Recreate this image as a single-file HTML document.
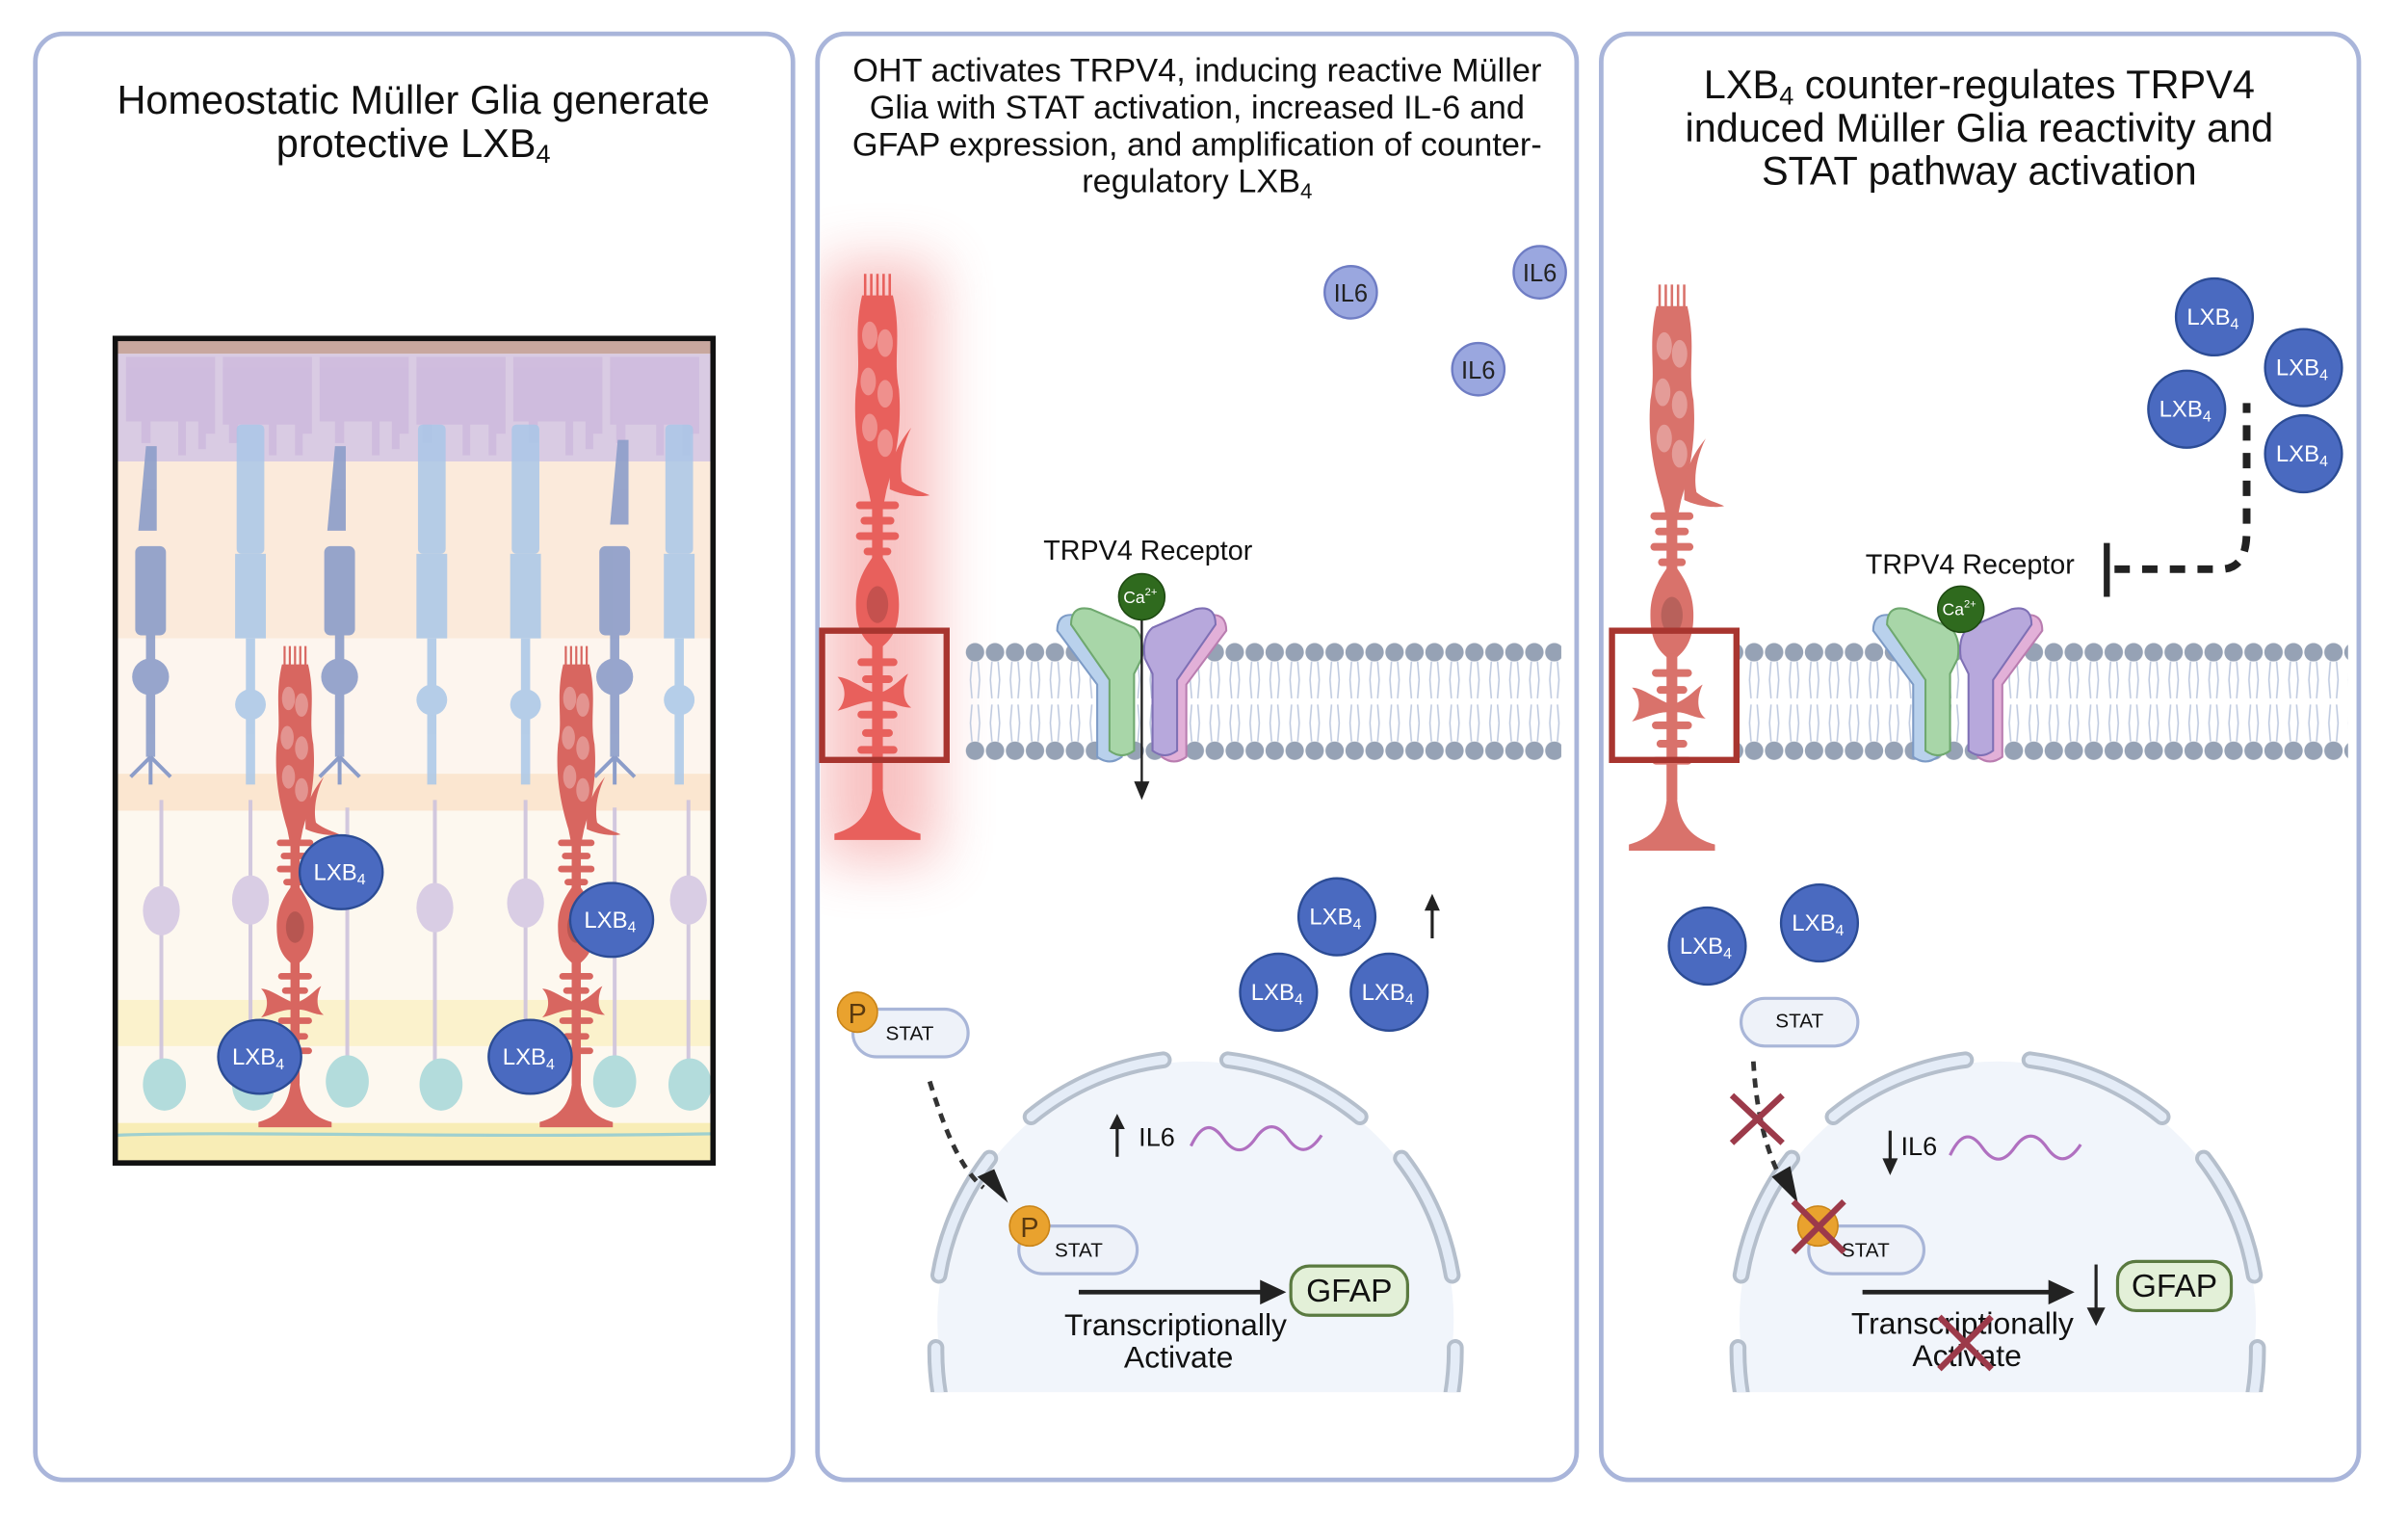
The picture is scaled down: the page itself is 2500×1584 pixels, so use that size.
<!DOCTYPE html>
<html><head><meta charset="utf-8"><style>
html,body{margin:0;padding:0;background:#fff;width:2500px;height:1584px;overflow:hidden}
svg{display:block}
text{font-family:"Liberation Sans",Arial,sans-serif}
</style></head><body>
<svg width="2500" height="1584" viewBox="0 0 1567 992" preserveAspectRatio="none" xmlns="http://www.w3.org/2000/svg">
<defs>
<pattern id="mem" patternUnits="userSpaceOnUse" x="628" y="418" width="13" height="76">
<g stroke="#bfcadf" stroke-width="1" fill="none">
<path d="M4.5,12 L3.5,24 L4.5,36 M8.5,12 L9.5,24 L8.5,36 M4.5,40 L3.5,52 L4.5,64 M8.5,40 L9.5,52 L8.5,64"/></g>
<circle cx="6.5" cy="6" r="6" fill="#96a2b5"/><circle cx="6.5" cy="70" r="6" fill="#96a2b5"/>
</pattern>
<filter id="blur" x="-100%" y="-50%" width="300%" height="200%"><feGaussianBlur stdDeviation="18"/></filter>
<clipPath id="p2clip"><rect x="534" y="24" width="490" height="936" rx="16"/></clipPath>
<clipPath id="nuc2"><rect x="560" y="600" width="440" height="305"/></clipPath>
<clipPath id="box1"><rect x="76" y="221" width="387" height="534"/></clipPath>
<g id="muller">
<g stroke="currentColor" stroke-width="1.6" fill="none"><path d="M-8,0 V16 M-4,0 V16 M0,0 V16 M4,0 V16 M8,0 V16"/></g>
<path d="M-10,14 H10 C16,40 10,55 14,75 C16,100 12,120 6,140 L4,150 H-4 L-6,140 C-12,120 -16,100 -14,75 C-10,55 -16,40 -10,14Z"/>
<g opacity="0.3" fill="#fff"><ellipse cx="-5" cy="40" rx="5" ry="9"/><ellipse cx="5" cy="45" rx="5" ry="9"/><ellipse cx="-6" cy="70" rx="5" ry="9"/><ellipse cx="5" cy="78" rx="5" ry="9"/><ellipse cx="-5" cy="100" rx="5" ry="9"/><ellipse cx="5" cy="110" rx="5" ry="9"/></g>
<path d="M8,130 C10,115 18,105 22,100 C16,112 14,125 16,135 C22,140 30,142 34,144 C24,146 12,142 8,140Z"/>
<rect x="-14" y="148" width="28" height="5" rx="2.5"/><rect x="-11" y="158" width="22" height="5" rx="2.5"/><rect x="-14" y="168" width="28" height="5" rx="2.5"/><rect x="-9" y="178" width="18" height="5" rx="2.5"/>
<rect x="-3.5" y="145" width="7" height="65"/>
<path d="M0,180 C12,195 14,205 14,215 C14,235 6,240 0,245 C-6,240 -14,235 -14,215 C-14,205 -12,195 0,180Z"/>
<ellipse cx="0" cy="215" rx="7" ry="12" fill="#000" opacity="0.15"/>
<rect x="-3.5" y="240" width="7" height="95"/>
<rect x="-13" y="250" width="26" height="5" rx="2.5"/><rect x="-10" y="261" width="20" height="5" rx="2.5"/><rect x="-13" y="284" width="26" height="5" rx="2.5"/><rect x="-10" y="296" width="20" height="5" rx="2.5"/><rect x="-13" y="307" width="26" height="5" rx="2.5"/>
<path d="M-3,272 C-12,268 -20,262 -26,262 C-20,268 -20,278 -26,284 C-18,282 -10,278 -3,278Z M3,272 C12,268 16,262 20,260 C16,268 16,278 22,282 C14,282 10,278 3,278Z"/>
<path d="M-3,330 C-4,352 -14,360 -28,364 L-28,368 H28 V364 C14,360 4,352 3,330Z"/>
</g>
<g id="lxb"><circle r="25" fill="#4a6ac0" stroke="#2c4c95" stroke-width="1.5"/></g>
<g id="il6"><circle r="17" fill="#9aa7df" stroke="#6f7dc4" stroke-width="1.5"/></g>
</defs>

<g fill="#fff" stroke="#a9b5da" stroke-width="3">
<rect x="23" y="22" width="493" height="940" rx="18"/>
<rect x="532" y="22" width="494" height="940" rx="18"/>
<rect x="1042" y="22" width="493" height="940" rx="18"/>
</g>

<g font-size="26" text-anchor="middle" fill="#111">
<text x="269" y="74">Homeostatic Müller Glia generate</text>
<text x="269" y="102">protective LXB<tspan font-size="17" dy="4">4</tspan></text>
<text x="1288" y="64">LXB<tspan font-size="17" dy="4">4</tspan><tspan dy="-4"> counter-regulates TRPV4</tspan></text>
<text x="1288" y="92">induced Müller Glia reactivity and</text>
<text x="1288" y="120">STAT pathway activation</text>
</g>
<g font-size="21.5" text-anchor="middle" fill="#111">
<text x="779" y="53">OHT activates TRPV4, inducing reactive Müller</text>
<text x="779" y="77">Glia with STAT activation, increased IL-6 and</text>
<text x="779" y="101">GFAP expression, and amplification of counter-</text>
<text x="779" y="125">regulatory LXB<tspan font-size="14" dy="4">4</tspan></text>
</g>

<g clip-path="url(#box1)">
<rect x="75" y="220" width="390" height="536" fill="#fdf8ef"/>
<rect x="75" y="220" width="390" height="10" fill="#c8a79e"/>
<rect x="75" y="230" width="390" height="70" fill="#d9cbe3"/>
<rect x="75" y="300" width="390" height="115" fill="#fbeadb"/>
<rect x="75" y="415" width="390" height="88" fill="#fdf5ee"/>
<rect x="75" y="503" width="390" height="24" fill="#fbe6d0"/>
<rect x="75" y="650" width="390" height="30" fill="#fbf2cc"/>
<rect x="75" y="730" width="390" height="26" fill="#f8edb6"/>
<g fill="#cdb9dd" opacity="0.8">
<path d="M82,232 h58 v50 h-6 v10 h-5 v-18 h-8 v22 h-5 v-22 h-18 v14 h-6 v-14 h-10Z"/>
<path d="M145,232 h58 v50 h-6 v14 h-5 v-20 h-12 v20 h-5 v-20 h-20 v12 h-6 v-12 h-4Z"/>
<path d="M208,232 h58 v50 h-6 v10 h-5 v-18 h-8 v22 h-5 v-22 h-18 v14 h-6 v-14 h-10Z"/>
<path d="M271,232 h58 v50 h-6 v14 h-5 v-20 h-12 v20 h-5 v-20 h-20 v12 h-6 v-12 h-4Z"/>
<path d="M334,232 h58 v50 h-6 v10 h-5 v-18 h-8 v22 h-5 v-22 h-18 v14 h-6 v-14 h-10Z"/>
<path d="M397,232 h58 v50 h-6 v14 h-5 v-20 h-12 v20 h-5 v-20 h-20 v12 h-6 v-12 h-4Z"/>
</g>
<g stroke="#cdc2dc" stroke-width="2.5" fill="none" opacity="0.9">
<path d="M105,520 V690 M163,520 V690 M283,520 V690 M342,520 V690 M448,520 V690 M226,525 V690 M400,525 V690"/>
</g>
<g fill="#d9cde4"><ellipse cx="105" cy="592" rx="12" ry="16"/><ellipse cx="163" cy="585" rx="12" ry="16"/><ellipse cx="283" cy="590" rx="12" ry="16"/><ellipse cx="342" cy="587" rx="12" ry="16"/><ellipse cx="448" cy="585" rx="12" ry="16"/></g>
<g fill="#b3dcdc"><ellipse cx="107" cy="705" rx="14" ry="17"/><ellipse cx="165" cy="705" rx="14" ry="17"/><ellipse cx="226" cy="703" rx="14" ry="17"/><ellipse cx="287" cy="705" rx="14" ry="17"/><ellipse cx="400" cy="703" rx="14" ry="17"/><ellipse cx="449" cy="705" rx="14" ry="17"/></g>
<path d="M75,738 C150,735 300,740 465,737" stroke="#9fd0cf" stroke-width="2" fill="none"/>
<g fill="#8c9dc9" opacity="0.9">
<path d="M95,290 h7 v55 h-12Z"/><rect x="88" y="355" width="20" height="58" rx="4"/><rect x="95" y="412" width="6" height="80"/><circle cx="98" cy="440" r="12"/>
<path d="M218,290 h7 v55 h-12Z"/><rect x="211" y="355" width="20" height="58" rx="4"/><rect x="218" y="412" width="6" height="80"/><circle cx="221" cy="440" r="12"/>
<path d="M402,286 h7 v55 h-12Z"/><rect x="390" y="355" width="20" height="58" rx="4"/><rect x="397" y="412" width="6" height="80"/><circle cx="400" cy="440" r="12"/>
</g>
<g stroke="#8c9dc9" stroke-width="2.5" fill="none"><path d="M98,492 L85,505 M98,492 L111,505 M98,492 V510 M221,492 L208,505 M221,492 L234,505 M221,492 V510 M400,492 L387,505 M400,492 L413,505 M400,492 V510"/></g>
<g fill="#a9c7e8" opacity="0.85">
<rect x="154" y="276" width="18" height="84" rx="3"/><rect x="153" y="360" width="20" height="55"/><rect x="160" y="415" width="6" height="95"/><circle cx="163" cy="458" r="10"/>
<rect x="272" y="276" width="18" height="84" rx="3"/><rect x="271" y="360" width="20" height="55"/><rect x="278" y="415" width="6" height="95"/><circle cx="281" cy="455" r="10"/>
<rect x="333" y="276" width="18" height="84" rx="3"/><rect x="332" y="360" width="20" height="55"/><rect x="339" y="415" width="6" height="95"/><circle cx="342" cy="458" r="10"/>
<rect x="433" y="276" width="18" height="84" rx="3"/><rect x="432" y="360" width="20" height="55"/><rect x="439" y="415" width="6" height="95"/><circle cx="442" cy="455" r="10"/>
</g>
<use href="#muller" transform="translate(192,420) scale(0.85)" fill="#d86660" color="#d86660"/>
<use href="#muller" transform="translate(375,420) scale(0.85)" fill="#d86660" color="#d86660"/>
</g>
<rect x="75" y="220" width="389" height="536" fill="none" stroke="#111" stroke-width="3.5"/>
<g fill="#4a6ac0" stroke="#2c4c95" stroke-width="1.5">
<ellipse cx="222" cy="567" rx="27" ry="24"/><ellipse cx="398" cy="598" rx="27" ry="24"/><ellipse cx="169" cy="687" rx="27" ry="24"/><ellipse cx="345" cy="687" rx="27" ry="24"/>
</g>
<g font-size="15" fill="#fff" text-anchor="middle">
<text x="221" y="572">LXB<tspan font-size="10" dy="3">4</tspan></text>
<text x="397" y="603">LXB<tspan font-size="10" dy="3">4</tspan></text>
<text x="168" y="692">LXB<tspan font-size="10" dy="3">4</tspan></text>
<text x="344" y="692">LXB<tspan font-size="10" dy="3">4</tspan></text>
</g>

<g clip-path="url(#p2clip)"><rect x="535" y="170" width="75" height="390" fill="#f07878" opacity="0.45" filter="url(#blur)"/></g>
<use href="#muller" transform="translate(571,178)" fill="#e8605c" color="#e8605c"/>
<rect x="535" y="410" width="81" height="84" fill="none" stroke="#a8352f" stroke-width="4"/>
<rect x="628" y="418" width="388" height="76" fill="url(#mem)"/>
<g stroke-width="1.3">
<path d="M688,410 Q688,398 700,400 L732,410 Q740,416 738,430 L730,440 V492 Q722,498 714,492 V445Z" fill="#b9d1ec" stroke="#7d9bc6"/>
<path d="M697,406 Q697,393 710,396 L738,408 Q745,414 743,428 L738,438 V488 Q730,494 722,488 V442Z" fill="#a8d6a8" stroke="#6fa86f"/>
<path d="M798,410 Q798,398 786,400 L754,410 Q746,416 748,430 L756,440 V492 Q764,498 772,492 V445Z" fill="#e2b0d8" stroke="#b97db0"/>
<path d="M791,406 Q791,393 778,396 L750,408 Q743,414 745,428 L750,438 V488 Q758,494 766,488 V442Z" fill="#b7a8dc" stroke="#7f70b5"/>
</g>
<line x1="743" y1="392" x2="743" y2="512" stroke="#222" stroke-width="1.5"/>
<path d="M738,508 L748,508 L743,520Z" fill="#222"/>
<circle cx="743" cy="388" r="15" fill="#2f6a1e" stroke="#1e4a12"/>
<text x="742" y="392" font-size="11" fill="#fff" text-anchor="middle">Ca<tspan font-size="7" dy="-5">2+</tspan></text>
<text x="747" y="364" font-size="18" text-anchor="middle" fill="#111">TRPV4 Receptor</text>
<use href="#il6" x="879" y="190"/><use href="#il6" x="1002" y="177"/><use href="#il6" x="962" y="240"/>
<g font-size="16" text-anchor="middle" fill="#222"><text x="879" y="196">IL6</text><text x="1002" y="183">IL6</text><text x="962" y="246">IL6</text></g>
<use href="#lxb" x="870" y="596"/><use href="#lxb" x="832" y="645"/><use href="#lxb" x="904" y="645"/>
<g font-size="15" fill="#fff" text-anchor="middle">
<text x="869" y="601">LXB<tspan font-size="10" dy="3">4</tspan></text>
<text x="831" y="650">LXB<tspan font-size="10" dy="3">4</tspan></text>
<text x="903" y="650">LXB<tspan font-size="10" dy="3">4</tspan></text>
</g>
<line x1="932" y1="610" x2="932" y2="590" stroke="#222" stroke-width="2"/><path d="M927,592 L937,592 L932,581Z" fill="#222"/>
<g clip-path="url(#nuc2)">
<circle cx="778" cy="858" r="168" fill="#eef3fa" opacity="0.8"/>
<g fill="none" stroke-linecap="round">
<g stroke="#b5bfcc" stroke-width="11">
<path d="M671,726 A170,170 0 0 1 757,689 M799,689 A170,170 0 0 1 885,726 M644,753 A170,170 0 0 0 611,829 M912,753 A170,170 0 0 1 945,829 M609,876 A170,170 0 0 0 613,915 M947,876 A170,170 0 0 1 943,915"/></g>
<g stroke="#e4ecf7" stroke-width="6">
<path d="M671,726 A170,170 0 0 1 757,689 M799,689 A170,170 0 0 1 885,726 M644,753 A170,170 0 0 0 611,829 M912,753 A170,170 0 0 1 945,829 M609,876 A170,170 0 0 0 613,915 M947,876 A170,170 0 0 1 943,915"/></g>
</g></g>
<rect x="555" y="656" width="75" height="31" rx="15.5" fill="#eef2f9" stroke="#a9b6d8" stroke-width="2"/>
<circle cx="558" cy="658" r="13" fill="#e9a22e" stroke="#c98418"/>
<text x="558" y="665" font-size="18" text-anchor="middle" fill="#5a3a10">P</text>
<text x="592" y="676" font-size="13" text-anchor="middle" fill="#111">STAT</text>
<path d="M605,703 C615,735 625,760 640,772" fill="none" stroke="#333" stroke-width="3" stroke-dasharray="6,5"/>
<path d="M636,765 L656,782 L647,760Z" fill="#222"/>
<rect x="663" y="797" width="77" height="31" rx="15.5" fill="#eef2f9" stroke="#a9b6d8" stroke-width="2"/>
<circle cx="670" cy="797" r="13" fill="#e9a22e" stroke="#c98418"/>
<text x="670" y="804" font-size="18" text-anchor="middle" fill="#5a3a10">P</text>
<text x="702" y="817" font-size="13" text-anchor="middle" fill="#111">STAT</text>
<line x1="702" y1="840" x2="825" y2="840" stroke="#222" stroke-width="3"/><path d="M820,832 L837,840 L820,848Z" fill="#222"/>
<rect x="840" y="823" width="76" height="32" rx="12" fill="#e3f0d8" stroke="#5a7a40" stroke-width="2"/>
<text x="878" y="846" font-size="21" text-anchor="middle" fill="#111">GFAP</text>
<text x="765" y="868" font-size="20" text-anchor="middle" fill="#111">Transcriptionally</text>
<text x="767" y="889" font-size="20" text-anchor="middle" fill="#111">Activate</text>
<line x1="727" y1="752" x2="727" y2="732" stroke="#222" stroke-width="2"/><path d="M722,734 L732,734 L727,724Z" fill="#222"/>
<text x="741" y="745" font-size="17" fill="#111">IL6</text>
<path d="M775,745 C782,730 789,730 796,740 C803,750 810,750 817,740 C824,730 831,730 838,740 C845,750 852,750 860,738" fill="none" stroke="#b070c0" stroke-width="2"/>

<use href="#muller" transform="translate(1088,185)" fill="#d9726b" color="#d9726b"/>
<rect x="1049" y="410" width="81" height="84" fill="none" stroke="#a8352f" stroke-width="4"/>
<rect x="1132" y="418" width="396" height="76" fill="url(#mem)"/>
<g stroke-width="1.3" transform="translate(531,0)">
<path d="M688,410 Q688,398 700,400 L732,410 Q740,416 738,430 L730,440 V492 Q722,498 714,492 V445Z" fill="#b9d1ec" stroke="#7d9bc6"/>
<path d="M697,406 Q697,393 710,396 L738,408 Q745,414 743,428 L738,438 V488 Q730,494 722,488 V442Z" fill="#a8d6a8" stroke="#6fa86f"/>
<path d="M798,410 Q798,398 786,400 L754,410 Q746,416 748,430 L756,440 V492 Q764,498 772,492 V445Z" fill="#e2b0d8" stroke="#b97db0"/>
<path d="M791,406 Q791,393 778,396 L750,408 Q743,414 745,428 L750,438 V488 Q758,494 766,488 V442Z" fill="#b7a8dc" stroke="#7f70b5"/>
</g>
<circle cx="1276" cy="396" r="15" fill="#2f6a1e" stroke="#1e4a12"/>
<text x="1275" y="400" font-size="11" fill="#fff" text-anchor="middle">Ca<tspan font-size="7" dy="-5">2+</tspan></text>
<text x="1282" y="373" font-size="18" text-anchor="middle" fill="#111">TRPV4 Receptor</text>
<line x1="1371" y1="353" x2="1371" y2="388" stroke="#222" stroke-width="4"/>
<path d="M1376,370 H1445 C1458,370 1462,360 1462,345 V262" fill="none" stroke="#222" stroke-width="5" stroke-dasharray="10,8"/>
<use href="#lxb" x="1441" y="206"/><use href="#lxb" x="1499" y="239"/><use href="#lxb" x="1423" y="266"/><use href="#lxb" x="1499" y="295"/>
<use href="#lxb" x="1111" y="615"/><use href="#lxb" x="1184" y="600"/>
<g font-size="15" fill="#fff" text-anchor="middle">
<text x="1440" y="211">LXB<tspan font-size="10" dy="3">4</tspan></text>
<text x="1498" y="244">LXB<tspan font-size="10" dy="3">4</tspan></text>
<text x="1422" y="271">LXB<tspan font-size="10" dy="3">4</tspan></text>
<text x="1498" y="300">LXB<tspan font-size="10" dy="3">4</tspan></text>
<text x="1110" y="620">LXB<tspan font-size="10" dy="3">4</tspan></text>
<text x="1183" y="605">LXB<tspan font-size="10" dy="3">4</tspan></text>
</g>
<g transform="translate(522,0)"><g clip-path="url(#nuc2)">
<circle cx="778" cy="858" r="168" fill="#eef3fa" opacity="0.8"/>
<g fill="none" stroke-linecap="round">
<g stroke="#b5bfcc" stroke-width="11">
<path d="M671,726 A170,170 0 0 1 757,689 M799,689 A170,170 0 0 1 885,726 M644,753 A170,170 0 0 0 611,829 M912,753 A170,170 0 0 1 945,829 M609,876 A170,170 0 0 0 613,915 M947,876 A170,170 0 0 1 943,915"/></g>
<g stroke="#e4ecf7" stroke-width="6">
<path d="M671,726 A170,170 0 0 1 757,689 M799,689 A170,170 0 0 1 885,726 M644,753 A170,170 0 0 0 611,829 M912,753 A170,170 0 0 1 945,829 M609,876 A170,170 0 0 0 613,915 M947,876 A170,170 0 0 1 943,915"/></g>
</g></g></g>
<rect x="1133" y="649" width="76" height="31" rx="15.5" fill="#eef2f9" stroke="#a9b6d8" stroke-width="2"/>
<text x="1171" y="668" font-size="13" text-anchor="middle" fill="#111">STAT</text>
<path d="M1141,690 C1143,725 1150,750 1160,768" fill="none" stroke="#333" stroke-width="3" stroke-dasharray="6,5"/>
<path d="M1153,765 L1170,782 L1165,758Z" fill="#222"/>
<path d="M1127,712 L1160,743 M1160,712 L1127,743" stroke="#9c3a4a" stroke-width="4"/>
<rect x="1177" y="797" width="75" height="31" rx="15.5" fill="#eef2f9" stroke="#a9b6d8" stroke-width="2"/>
<circle cx="1183" cy="797" r="13" fill="#e9a22e" stroke="#c98418"/>
<text x="1214" y="817" font-size="13" text-anchor="middle" fill="#111">STAT</text>
<path d="M1167,781 L1200,814 M1200,781 L1167,814" stroke="#9c3a4a" stroke-width="4"/>
<line x1="1212" y1="840" x2="1338" y2="840" stroke="#222" stroke-width="3"/><path d="M1333,832 L1350,840 L1333,848Z" fill="#222"/>
<line x1="1364" y1="822" x2="1364" y2="852" stroke="#222" stroke-width="2"/><path d="M1358,850 L1370,850 L1364,862Z" fill="#222"/>
<rect x="1378" y="820" width="74" height="32" rx="12" fill="#e3f0d8" stroke="#5a7a40" stroke-width="2"/>
<text x="1415" y="843" font-size="21" text-anchor="middle" fill="#111">GFAP</text>
<text x="1277" y="867" font-size="20" text-anchor="middle" fill="#111">Transcriptionally</text>
<text x="1280" y="888" font-size="20" text-anchor="middle" fill="#111">Activate</text>
<path d="M1262,856 L1296,890 M1296,856 L1262,890" stroke="#9c3a4a" stroke-width="4"/>
<line x1="1230" y1="735" x2="1230" y2="755" stroke="#222" stroke-width="2"/><path d="M1225,753 L1235,753 L1230,764Z" fill="#222"/>
<text x="1237" y="751" font-size="17" fill="#111">IL6</text>
<path d="M1269,751 C1276,736 1283,736 1290,746 C1297,756 1304,756 1311,746 C1318,736 1325,736 1332,746 C1339,756 1346,756 1354,744" fill="none" stroke="#b070c0" stroke-width="2"/>
</svg>
</body></html>
